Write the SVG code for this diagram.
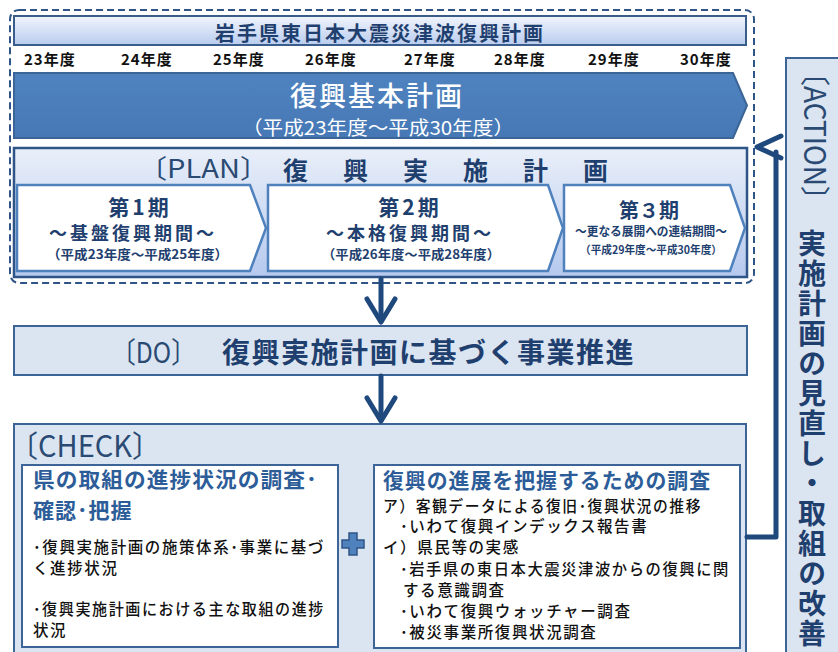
<svg xmlns="http://www.w3.org/2000/svg" width="838" height="652" viewBox="0 0 838 652">
<defs>
<linearGradient id="gTitle" x1="0" y1="0" x2="0" y2="1">
<stop offset="0" stop-color="#f1f5fc"/>
<stop offset="1" stop-color="#b9ccef"/>
</linearGradient>
<linearGradient id="gPlan" x1="0" y1="0" x2="0" y2="1">
<stop offset="0" stop-color="#e9eff9"/>
<stop offset="1" stop-color="#b6c9ee"/>
</linearGradient>
<linearGradient id="gBlue" x1="0" y1="0" x2="0" y2="1">
<stop offset="0" stop-color="#4f83c0"/>
<stop offset="1" stop-color="#4678b5"/>
</linearGradient>
</defs>
<style>
text{font-family:"Noto Sans CJK JP","Noto Sans",sans-serif;}
.navy{fill:#1f3f6f;}
.b{font-weight:700;}
.yr{font-size:15px;font-weight:700;fill:#111;letter-spacing:1px;}
.ph{stroke:#4f81bd;stroke-width:2.5;fill:#fff;}
.lb{fill:#dbe5f1;stroke:#3d6496;stroke-width:2;}
.inner{fill:#fff;stroke:#3d6496;stroke-width:2;}
.hd{font-size:21px;font-weight:700;fill:#2d5d98;letter-spacing:1px;}
.bd{font-size:15.5px;font-weight:500;fill:#111;letter-spacing:1.6px;}
.conn{fill:none;stroke:#1f497d;stroke-width:5;stroke-linecap:round;stroke-linejoin:round;}
.lat{fill:#2a4a73;font-weight:400;}
</style>

<g id="plan-frame">
<rect x="10" y="10" width="744" height="273" rx="9" fill="none" stroke="#2f5488" stroke-width="2" stroke-dasharray="7 4"/>
</g>

<g id="title-bar">
<rect x="14" y="16" width="732" height="29" fill="url(#gTitle)" stroke="#3a5d8c" stroke-width="2"/>
<text x="380" y="41" text-anchor="middle" class="navy b" font-size="20" letter-spacing="2">岩手県東日本大震災津波復興計画</text>
</g>

<g id="years">
<text x="24" y="65" class="yr">23年度</text>
<text x="121" y="65" class="yr">24年度</text>
<text x="213" y="65" class="yr">25年度</text>
<text x="305" y="65" class="yr">26年度</text>
<text x="404" y="65" class="yr">27年度</text>
<text x="494" y="65" class="yr">28年度</text>
<text x="588" y="65" class="yr">29年度</text>
<text x="680" y="65" class="yr">30年度</text>
</g>

<g id="basic-plan">
<polygon points="14,73 733,73 747,105.5 733,138 14,138" fill="url(#gBlue)" stroke="#3b6497" stroke-width="2"/>
<text x="377" y="106" text-anchor="middle" fill="#fff" font-size="27" font-weight="500" letter-spacing="2">復興基本計画</text>
<text x="242" y="135" fill="#fff" font-size="19" font-weight="400" textLength="272" lengthAdjust="spacingAndGlyphs">（平成23年度～平成30年度）</text>
</g>

<g id="plan">
<rect x="14" y="148" width="733" height="129" fill="url(#gPlan)" stroke="#2f5488" stroke-width="2.5"/>
<text x="138" y="178" font-size="26" class="lat" textLength="131" lengthAdjust="spacingAndGlyphs">〔PLAN〕</text>
<text x="283" y="180" font-size="25" class="navy b" letter-spacing="35">復興実施計画</text>
</g>

<g id="phase1">
<polygon class="ph" points="17,185 250,185 266,228 250,271 17,271"/>
<text x="140" y="215" text-anchor="middle" class="navy b" font-size="21" letter-spacing="3">第1期</text>
<text x="133" y="240" text-anchor="middle" class="navy b" font-size="18" letter-spacing="3">～基盤復興期間～</text>
<text x="47" y="259" class="navy b" font-size="13" textLength="181" lengthAdjust="spacingAndGlyphs">（平成23年度～平成25年度）</text>
</g>

<g id="phase2">
<polygon class="ph" points="268,185 548,185 563,228 548,271 268,271"/>
<text x="410" y="215" text-anchor="middle" class="navy b" font-size="21" letter-spacing="3">第2期</text>
<text x="410" y="240" text-anchor="middle" class="navy b" font-size="18" letter-spacing="3">～本格復興期間～</text>
<text x="322" y="259" class="navy b" font-size="13" textLength="178" lengthAdjust="spacingAndGlyphs">（平成26年度～平成28年度）</text>
</g>

<g id="phase3">
<polygon class="ph" points="564,185 730,185 745,228 730,271 564,271"/>
<text x="649" y="218" text-anchor="middle" class="navy b" font-size="20">第３期</text>
<text x="575" y="236" class="navy b" font-size="12" textLength="152" lengthAdjust="spacingAndGlyphs">～更なる展開への連結期間～</text>
<text x="580" y="254" class="navy b" font-size="11" textLength="142" lengthAdjust="spacingAndGlyphs">（平成29年度～平成30年度）</text>
</g>

<g id="do">
<rect class="lb" x="14" y="326" width="733" height="49"/>
<text x="111" y="363" font-size="29" class="lat" textLength="85" lengthAdjust="spacingAndGlyphs">〔DO〕</text>
<text x="222" y="363" font-size="28" class="navy b" letter-spacing="1.5">復興実施計画に基づく事業推進</text>
</g>

<g id="check">
<rect class="lb" x="14" y="424" width="732" height="250"/>
<text x="9" y="457" font-size="30" class="lat" textLength="152" lengthAdjust="spacingAndGlyphs">〔CHECK〕</text>
</g>

<g id="check-left">
<rect class="inner" x="22" y="465" width="316" height="182"/>
<text x="33" y="487" class="hd" textLength="285" lengthAdjust="spacingAndGlyphs">県の取組の進捗状況の調査･</text>
<text x="33" y="518" class="hd">確認･把握</text>
<text x="33" y="553" class="bd" textLength="292" lengthAdjust="spacingAndGlyphs">･復興実施計画の施策体系･事業に基づ</text>
<text x="33" y="574" class="bd">く進捗状況</text>
<text x="33" y="615" class="bd" textLength="292" lengthAdjust="spacingAndGlyphs">･復興実施計画における主な取組の進捗</text>
<text x="33" y="636" class="bd">状況</text>
</g>

<g id="plus">
<path d="M349,533 H357 V540 H364 V548 H357 V555 H349 V548 H342 V540 H349 Z" fill="#4f81bd" stroke="#2f5488" stroke-width="1.5"/>
</g>

<g id="check-right">
<rect class="inner" x="374" y="465" width="366" height="183"/>
<text x="383" y="488" class="hd" font-size="20.5" textLength="328" lengthAdjust="spacingAndGlyphs">復興の進展を把握するための調査</text>
<text x="383" y="512" class="bd" textLength="319" lengthAdjust="spacingAndGlyphs">ア）客観データによる復旧･復興状況の推移</text>
<text x="400" y="532" class="bd">･いわて復興インデックス報告書</text>
<text x="383" y="553" class="bd">イ）県民等の実感</text>
<text x="400" y="575" class="bd" textLength="330" lengthAdjust="spacingAndGlyphs">･岩手県の東日本大震災津波からの復興に関</text>
<text x="403" y="596" class="bd">する意識調査</text>
<text x="400" y="617" class="bd">･いわて復興ウォッチャー調査</text>
<text x="400" y="638" class="bd">･被災事業所復興状況調査</text>
</g>

<g id="action">
<rect class="lb" x="786" y="58" width="62" height="610"/>
<text transform="translate(804,58) rotate(90)" font-size="30" class="lat" textLength="156" lengthAdjust="spacingAndGlyphs">〔ACTION〕</text>
<text x="812" y="229" class="navy b" font-size="28" letter-spacing="2" style="writing-mode:vertical-rl">実施計画の見直し・取組の改善</text>
</g>

<g id="connectors">
<path class="conn" d="M381,279 V321"/>
<path class="conn" d="M367,299 L381,322 L395,299"/>
<path class="conn" d="M381,376 V420"/>
<path class="conn" d="M367,398 L381,421 L395,398"/>
<path class="conn" d="M747,537 H776 V152"/>
<path class="conn" d="M781,136 L757,147 L781,158"/>
</g>
</svg>
